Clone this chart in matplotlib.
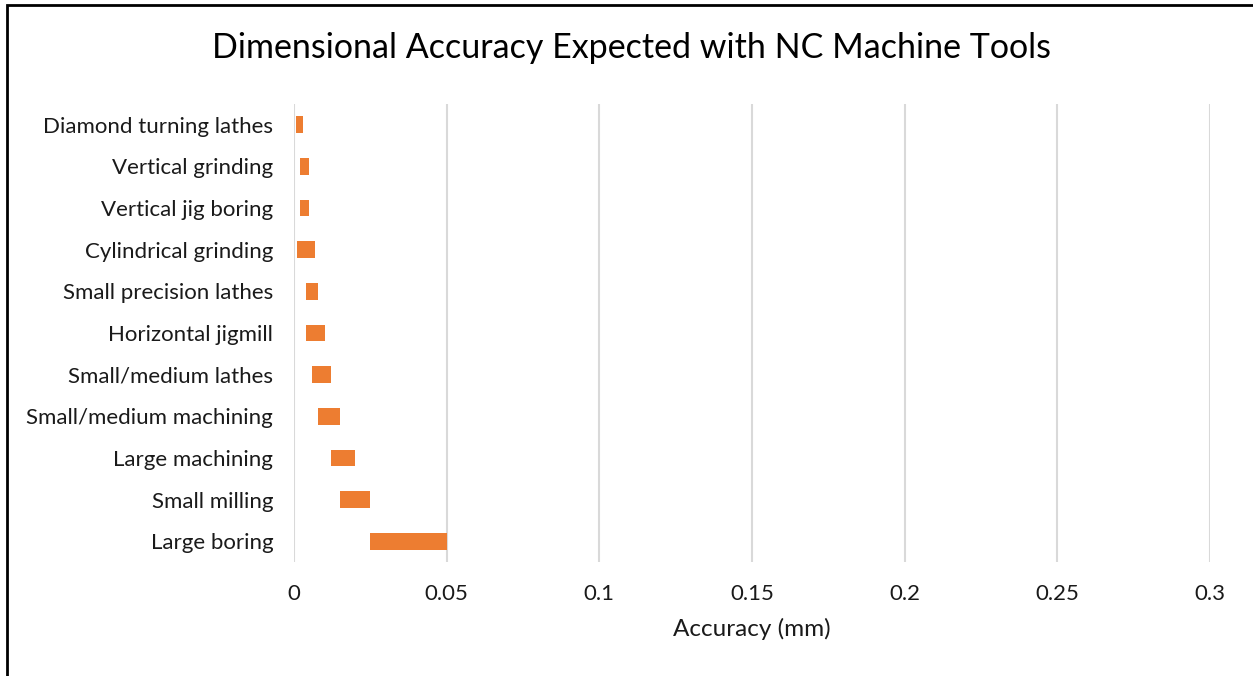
import matplotlib
matplotlib.use('Agg')

import matplotlib.pyplot as plt
from matplotlib.patches import Rectangle

plt.rcParams['font.family'] = ['Lato', 'DejaVu Sans']

# machine types, top to bottom as in the chart
machines = [
    'Diamond turning lathes', 'Vertical grinding', 'Vertical jig boring',
    'Cylindrical grinding', 'Small precision lathes', 'Horizontal jigmill',
    'Small/medium lathes', 'Small/medium machining', 'Large machining',
    'Small milling', 'Large boring',
]
# accuracy range (mm): best and worst
acc_low = [0.0005, 0.002, 0.002, 0.001, 0.004, 0.004, 0.006, 0.008, 0.012, 0.015, 0.025]
acc_high = [0.003, 0.005, 0.005, 0.007, 0.008, 0.010, 0.012, 0.015, 0.020, 0.025, 0.050]
x_ticks = [0, 0.05, 0.1, 0.15, 0.2, 0.25, 0.3]
x_tick_labels = ['0', '0.05', '0.1', '0.15', '0.2', '0.25', '0.3']

fig = plt.figure(figsize=(12.53, 6.76), dpi=100, facecolor='white')
ax = fig.add_axes([294 / 1253, 1 - 562 / 676, 916 / 1253, 458 / 676])

widths = [h - l for l, h in zip(acc_low, acc_high)]
ypos = list(range(len(machines)))
ax.barh(ypos, widths, left=acc_low, height=0.4, color='#ED7D31', zorder=3)

ax.set_ylim(len(machines) - 0.5, -0.5)
ax.set_xlim(0, 0.3)
ax.set_yticks(ypos)
ax.set_yticklabels(machines, fontsize=16, color='#1a1a1a')
ax.set_xticks(x_ticks)
ax.set_xticklabels(x_tick_labels, fontsize=16, color='#1a1a1a')
ax.tick_params(length=0)
ax.tick_params(axis='y', pad=15)
ax.tick_params(axis='x', pad=16)
ax.grid(axis='x', color='#d9d9d9', linewidth=1.5, zorder=0)
for s in ax.spines.values():
    s.set_visible(False)

ax.set_xlabel('Accuracy (mm)', fontsize=17.5, color='#1a1a1a', labelpad=10)
fig.text(631 / 1253, 1 - 48 / 676, 'Dimensional Accuracy Expected with NC Machine Tools',
         ha='center', va='center', fontsize=24.5, color='#000000')

# outer frame (only left and top edges fall inside the image)
fig.patches.append(Rectangle((7 / 1253, -0.1), 1.2, 1 - 5 / 676 + 0.1,
                             transform=fig.transFigure, fill=False,
                             edgecolor='black', linewidth=2))

fig.savefig('out.png', dpi=100, facecolor='white')
